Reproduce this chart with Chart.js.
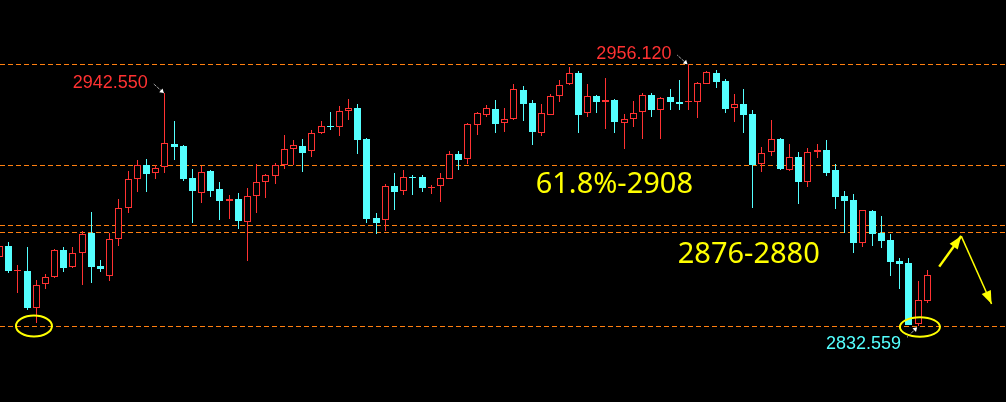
<!DOCTYPE html>
<html>
<head>
<meta charset="utf-8">
<script src="https://cdn.jsdelivr.net/npm/chart.js@4.4.1/dist/chart.umd.min.js"></script>
<style>
html, body { margin: 0; padding: 0; background: #000; }
#wrap { width: 1006px; height: 402px; }
</style>
</head>
<body>
<div id="wrap"><canvas id="kline" width="1006" height="402"></canvas></div>
<script>
// candle values, one entry per bar (left to right)
const opens = [
    2865.4, 2870.4, 2858.6, 2858.6, 2841.3, 2852.4, 2856.0, 2868.4, 2860.4, 2867.3,
    2876.6, 2861.0, 2856.4, 2873.6, 2888.2, 2901.9, 2908.5, 2904.7, 2907.5, 2918.5,
    2917.6, 2902.5, 2895.6, 2905.8, 2897.3, 2891.8, 2892.6, 2881.9, 2894.2, 2900.8,
    2903.3, 2908.5, 2916.0, 2917.5, 2915.1, 2923.6, 2927.0, 2926.7, 2934.0, 2935.5,
    2920.9, 2883.6, 2882.8, 2898.7, 2896.2, 2903.0, 2903.0, 2897.9, 2898.9, 2902.2,
    2913.8, 2911.3, 2927.6, 2932.4, 2935.0, 2928.6, 2930.2, 2944.0, 2937.7, 2923.9,
    2932.4, 2941.0, 2946.7, 2951.9, 2933.0, 2941.0, 2938.2, 2939.1, 2928.6, 2930.2,
    2933.5, 2941.5, 2934.4, 2940.5, 2938.2, 2938.2, 2938.2, 2947.0, 2951.9, 2948.2,
    2935.4, 2937.2, 2932.5, 2909.0, 2914.6, 2920.7, 2906.1, 2912.4, 2900.8, 2914.6,
    2915.7, 2906.3, 2894.0, 2892.1, 2871.7, 2886.9, 2876.4, 2873.3, 2863.4, 2862.3,
    2833.5, 2844.6
];
const highs = [
    2871.4, 2872.5, 2861.5, 2869.8, 2854.4, 2857.1, 2868.9, 2870.1, 2870.1, 2877.6,
    2886.3, 2863.8, 2876.7, 2892.5, 2905.8, 2911.0, 2911.5, 2908.6, 2942.55, 2929.4,
    2918.1, 2906.7, 2908.2, 2906.3, 2900.6, 2894.5, 2895.4, 2897.8, 2909.0, 2904.4,
    2909.4, 2922.8, 2920.4, 2920.9, 2925.1, 2929.4, 2933.6, 2936.5, 2939.8, 2937.4,
    2921.2, 2885.9, 2899.7, 2904.9, 2906.3, 2903.9, 2903.9, 2899.2, 2904.7, 2915.1,
    2915.1, 2928.6, 2933.5, 2936.8, 2939.3, 2935.4, 2946.8, 2945.7, 2939.3, 2937.2,
    2942.0, 2948.7, 2954.7, 2953.0, 2946.8, 2941.6, 2949.7, 2939.8, 2932.5, 2938.8,
    2942.4, 2942.4, 2940.7, 2944.5, 2948.7, 2956.12, 2947.6, 2953.0, 2953.4, 2949.2,
    2942.0, 2944.5, 2934.6, 2917.1, 2929.9, 2921.2, 2918.5, 2914.9, 2916.5, 2918.5,
    2920.4, 2909.0, 2896.4, 2895.0, 2887.6, 2887.4, 2884.6, 2876.1, 2864.9, 2864.9,
    2853.9, 2859.1
];
const lows = [
    2864.8, 2857.8, 2848.1, 2840.2, 2834.0, 2850.0, 2855.2, 2858.3, 2860.0, 2852.0,
    2852.8, 2858.2, 2854.1, 2870.6, 2886.1, 2896.0, 2896.0, 2902.2, 2905.0, 2911.0,
    2901.2, 2881.4, 2890.6, 2893.4, 2882.7, 2883.3, 2878.6, 2863.5, 2886.1, 2893.2,
    2899.7, 2906.7, 2908.5, 2905.5, 2912.5, 2923.4, 2925.1, 2922.3, 2929.9, 2913.8,
    2881.4, 2876.2, 2877.6, 2887.4, 2894.6, 2894.6, 2895.9, 2895.0, 2891.3, 2902.0,
    2906.3, 2909.2, 2922.9, 2931.4, 2923.9, 2924.3, 2930.0, 2929.5, 2918.1, 2922.3,
    2932.2, 2938.5, 2946.5, 2923.9, 2931.3, 2933.3, 2925.7, 2923.9, 2916.3, 2926.4,
    2921.0, 2931.4, 2920.7, 2934.7, 2934.7, 2934.4, 2930.7, 2946.8, 2944.8, 2933.0,
    2929.0, 2923.6, 2888.2, 2905.5, 2913.0, 2906.4, 2905.9, 2890.2, 2898.1, 2911.8,
    2903.6, 2888.0, 2876.7, 2867.3, 2869.8, 2870.6, 2869.5, 2856.4, 2850.2, 2833.1,
    2832.559, 2843.7
];
const closes = [
    2870.4, 2858.6, 2859.1, 2841.0, 2851.9, 2855.7, 2868.4, 2860.2, 2867.0, 2876.1,
    2860.7, 2859.7, 2873.6, 2888.2, 2902.0, 2908.5, 2904.5, 2907.2, 2918.9, 2917.3,
    2902.0, 2896.5, 2905.2, 2896.5, 2891.8, 2892.5, 2882.2, 2893.9, 2900.5, 2903.8,
    2908.5, 2916.0, 2917.9, 2914.4, 2923.6, 2926.9, 2926.7, 2934.1, 2935.4, 2920.4,
    2883.2, 2881.4, 2898.6, 2896.0, 2902.8, 2902.5, 2897.9, 2898.4, 2902.4, 2913.7,
    2911.0, 2927.8, 2933.0, 2935.4, 2928.0, 2930.2, 2944.3, 2937.4, 2924.3, 2933.0,
    2941.0, 2946.2, 2951.9, 2932.4, 2941.0, 2938.5, 2939.1, 2929.0, 2930.2, 2933.0,
    2941.5, 2934.7, 2940.4, 2938.2, 2937.5, 2938.7, 2947.2, 2952.3, 2947.9, 2935.2,
    2937.2, 2932.4, 2908.6, 2914.1, 2920.7, 2906.6, 2912.3, 2900.8, 2914.6, 2915.7,
    2905.0, 2893.7, 2891.8, 2872.0, 2887.4, 2876.2, 2872.9, 2863.0, 2862.1, 2833.3,
    2844.8, 2856.6
];

// dashed support / resistance levels
const levels = [2956.12, 2908.5, 2880.2, 2876.9, 2832.559];

// marked extremes: bar index, value, label text
const extremes = [
    { bar: 18, value: 2942.55, text: '2942.550', side: 'up' },
    { bar: 75, value: 2956.12, text: '2956.120', side: 'up' },
    { bar: 100, value: 2832.559, text: '2832.559', side: 'down' }
];

// yellow notes (left x in bars, baseline in price)
const notes = [
    { text: '61.8%-2908', bar: 58.37, value: 2895.3 },
    { text: '2876-2880', bar: 73.83, value: 2862.55 }
];

// circled lows
const circles = [
    { bar: 3.75, value: 2832.7, rx: 18, ry: 10.5 },
    { bar: 100.2, value: 2832.2, rx: 20, ry: 9.7 }
];

// forecast path: up to the 2876-2880 zone, then down
const forecast = [
    { bar: 102.3, value: 2860.7 },
    { bar: 104.7, value: 2875.1 },
    { bar: 108.0, value: 2843.1 }
];

const UP = '#ff3232';
const DOWN = '#54ffff';
const YELLOW = '#ffff00';
const LEVEL = '#ff7f10';

const idx = opens.map((_, i) => i);
const isUp = idx.map(i => closes[i] >= opens[i]);

function arrowHead(ctx, x0, y0, x1, y1, len, half) {
    const a = Math.atan2(y1 - y0, x1 - x0);
    ctx.beginPath();
    ctx.moveTo(x1, y1);
    ctx.lineTo(x1 - len * Math.cos(a) + half * Math.sin(a), y1 - len * Math.sin(a) - half * Math.cos(a));
    ctx.lineTo(x1 - len * Math.cos(a) - half * Math.sin(a), y1 - len * Math.sin(a) + half * Math.cos(a));
    ctx.closePath();
    ctx.fill();
}

// snap bar elements to the pixel grid so the thin candles stay crisp
const pixelSnap = {
    id: 'pixelSnap',
    afterDatasetsUpdate(chart) {
        chart.data.datasets.forEach((ds, d) => {
            chart.getDatasetMeta(d).data.forEach(el => {
                el.x = Math.floor(el.x) + 0.5;
                el.y = Math.round(el.y);
                el.base = Math.round(el.base);
                if (el.y == el.base) el.base += 1;
            });
        });
    }
};

const levelLines = {
    id: 'levelLines',
    beforeDatasetsDraw(chart) {
        const ctx = chart.ctx;
        const y = chart.scales.y;
        const area = chart.chartArea;
        ctx.save();
        ctx.strokeStyle = LEVEL;
        ctx.lineWidth = 1;
        ctx.setLineDash([5, 3]);
        levels.forEach(v => {
            const py = Math.round(y.getPixelForValue(v)) + 0.5;
            ctx.beginPath();
            ctx.moveTo(area.left, py);
            ctx.lineTo(area.right, py);
            ctx.stroke();
        });
        ctx.restore();
    }
};

const marks = {
    id: 'marks',
    afterDatasetsDraw(chart) {
        const ctx = chart.ctx;
        const sx = chart.scales.x;
        const sy = chart.scales.y;
        ctx.save();

        // extreme labels with small dotted pointers
        extremes.forEach(e => {
            const tx = sx.getPixelForValue(e.bar) - 1;
            const ty = sy.getPixelForValue(e.value) + (e.side == 'up' ? 0 : 1);
            const dy = e.side == 'up' ? -9 : 10;
            const ax = tx - 10;
            const ay = ty + dy;
            ctx.strokeStyle = '#ffffff';
            ctx.fillStyle = '#ffffff';
            ctx.lineWidth = 1;
            ctx.setLineDash([1, 1]);
            ctx.beginPath();
            ctx.moveTo(ax, ay);
            ctx.lineTo(tx, ty);
            ctx.stroke();
            ctx.setLineDash([]);
            arrowHead(ctx, ax, ay, tx, ty, 4, 2.5);

            ctx.font = '18px "Liberation Sans", Arial, sans-serif';
            ctx.textAlign = 'right';
            ctx.textBaseline = 'alphabetic';
            ctx.fillStyle = e.side == 'up' ? UP : DOWN;
            ctx.fillText(e.text, ax - 6, e.side == 'up' ? ay + 4 : ay + 12);
        });

        // yellow notes
        ctx.fillStyle = YELLOW;
        ctx.font = '29px "Noto Sans", sans-serif';
        ctx.textAlign = 'left';
        notes.forEach(n => {
            ctx.fillText(n.text, sx.getPixelForValue(n.bar), sy.getPixelForValue(n.value));
        });

        // circles
        ctx.strokeStyle = YELLOW;
        ctx.lineWidth = 2;
        circles.forEach(c => {
            ctx.beginPath();
            ctx.ellipse(sx.getPixelForValue(c.bar), sy.getPixelForValue(c.value), c.rx, c.ry, 0, 0, Math.PI * 2);
            ctx.stroke();
        });

        // forecast arrows
        const pts = forecast.map(p => [sx.getPixelForValue(p.bar), sy.getPixelForValue(p.value)]);
        ctx.fillStyle = YELLOW;
        for (let i = 1; i < pts.length; i++) {
            const [x0, y0] = pts[i - 1];
            const [x1, y1] = pts[i];
            ctx.lineWidth = i == 1 ? 2.5 : 1.5;
            ctx.beginPath();
            ctx.moveTo(x0, y0);
            ctx.lineTo(x1, y1);
            ctx.stroke();
            arrowHead(ctx, x0, y0, x1, y1, 13, 5);
        }
        ctx.restore();
    }
};

new Chart(document.getElementById('kline'), {
    type: 'bar',
    data: {
        datasets: [
            {
                label: 'body',
                data: idx.map(i => ({ x: i, y: [opens[i], closes[i]] })),
                backgroundColor: idx.map(i => isUp[i] ? '#000000' : DOWN),
                borderColor: idx.map(i => isUp[i] ? UP : DOWN),
                borderWidth: idx.map(i => isUp[i] ? 1 : 0),
                borderSkipped: false,
                barThickness: 7,
                grouped: false,
                inflateAmount: 0,
                order: 1
            },
            {
                label: 'wick',
                data: idx.map(i => ({ x: i, y: [lows[i], highs[i]] })),
                backgroundColor: idx.map(i => isUp[i] ? UP : DOWN),
                borderWidth: 0,
                barThickness: 1,
                grouped: false,
                inflateAmount: 0,
                order: 2
            }
        ]
    },
    options: {
        responsive: false,
        animation: false,
        devicePixelRatio: 1,
        events: [],
        layout: { padding: 0 },
        plugins: {
            legend: { display: false },
            tooltip: { enabled: false }
        },
        scales: {
            x: { type: 'linear', min: 0.053, max: 109.57, offset: false, display: false },
            y: { min: 2796.86, max: 2986.44, display: false }
        }
    },
    plugins: [pixelSnap, levelLines, marks]
});
</script>
</body>
</html>
